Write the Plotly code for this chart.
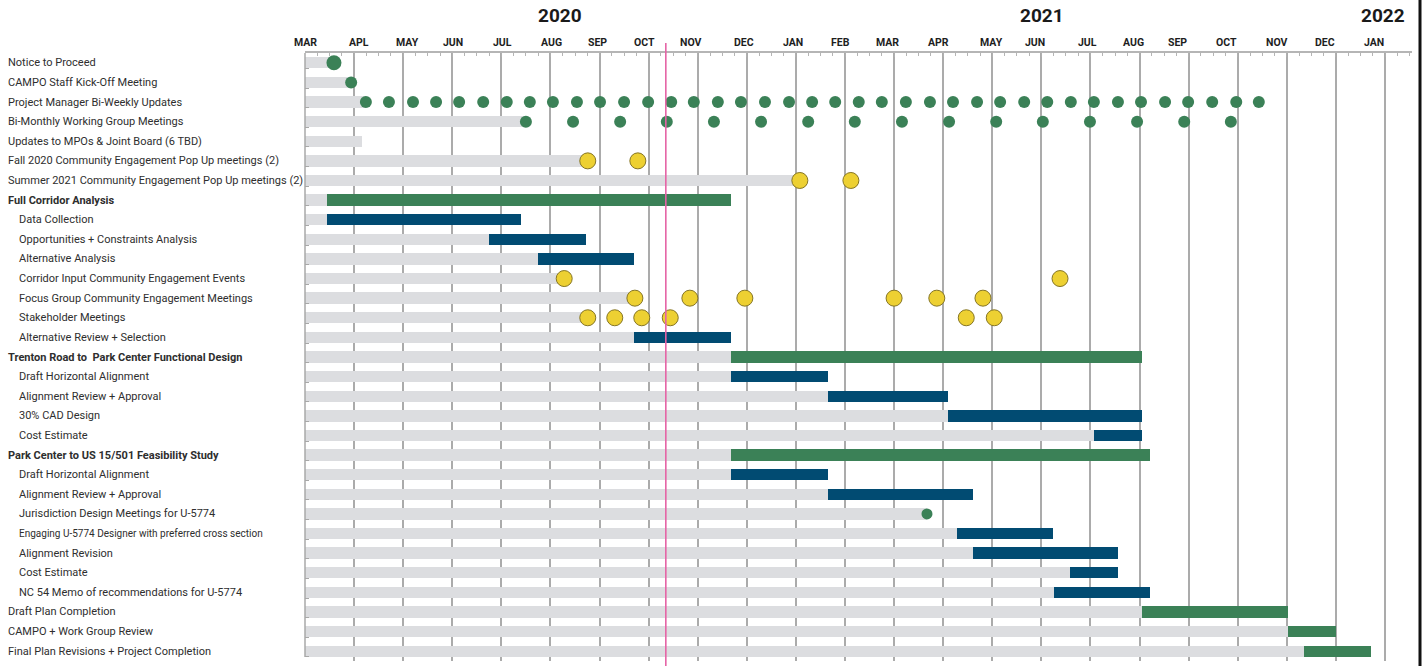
import plotly.graph_objects as go

# ---------------- data ----------------
labels = [
    "Notice to Proceed",
    "CAMPO Staff Kick-Off Meeting",
    "Project Manager Bi-Weekly Updates",
    "Bi-Monthly Working Group Meetings",
    "Updates to MPOs & Joint Board (6 TBD)",
    "Fall 2020 Community Engagement Pop Up meetings (2)",
    "Summer 2021 Community Engagement Pop Up meetings (2)",
    "Full Corridor Analysis",
    "Data Collection",
    "Opportunities + Constraints Analysis",
    "Alternative Analysis",
    "Corridor Input Community Engagement Events",
    "Focus Group Community Engagement Meetings",
    "Stakeholder Meetings",
    "Alternative Review + Selection",
    "Trenton Road to\u00a0 Park Center Functional Design",
    "Draft Horizontal Alignment",
    "Alignment Review + Approval",
    "30% CAD Design",
    "Cost Estimate",
    "Park Center to US 15/501 Feasibility Study",
    "Draft Horizontal Alignment",
    "Alignment Review + Approval",
    "Jurisdiction Design Meetings for U-5774",
    "Engaging U-5774 Designer with preferred cross section",
    "Alignment Revision",
    "Cost Estimate",
    "NC 54 Memo of recommendations for U-5774",
    "Draft Plan Completion",
    "CAMPO + Work Group Review",
    "Final Plan Revisions + Project Completion",
]
# 'top' = top level, 'head' = bold section header, 'sub' = indented sub-task
label_kind = ["top"] * 7 + ["head"] + ["sub"] * 7 + ["head"] + ["sub"] * 4 + ["head"] + ["sub"] * 7 + ["top"] * 3

# time unit: months since 1 March 2020
month_names = ["MAR", "APL", "MAY", "JUN", "JUL", "AUG", "SEP", "OCT", "NOV", "DEC", "JAN", "FEB",
               "MAR", "APR", "MAY", "JUN", "JUL", "AUG", "SEP", "OCT", "NOV", "DEC", "JAN"]
years = ["2020", "2021", "2022"]

# phases (green bars)
phase_rows = [7, 15, 20, 28, 29, 30]
phase_start = [0.45, 8.68, 8.68, 17.05, 20.02, 20.35]
phase_end = [8.68, 17.05, 17.21, 20.02, 21.00, 21.72]

# tasks (blue bars)
task_rows = [8, 9, 10, 14, 16, 17, 18, 19, 21, 22, 24, 25, 26, 27]
task_start = [0.45, 3.75, 4.75, 6.70, 8.68, 10.65, 13.10, 16.07, 8.68, 10.65, 13.28, 13.61, 15.58, 15.26]
task_end = [4.40, 5.72, 6.70, 8.68, 10.65, 13.10, 17.05, 17.05, 10.65, 13.61, 15.24, 16.56, 16.56, 17.21]

# green milestone dots
notice_to_proceed = [0.59]
kickoff_meeting = [0.94]
pm_biweekly = [1.24, 1.71, 2.20, 2.67, 3.14, 3.63, 4.11, 4.58, 5.05, 5.54, 6.01, 6.50, 6.99,
               7.46, 7.92, 8.41, 8.88, 9.37, 9.86, 10.33, 10.80, 11.28, 11.75, 12.24, 12.73,
               13.20, 13.69, 14.16, 14.65, 15.12, 15.60, 16.07, 16.56, 17.03, 17.52, 17.99,
               18.48, 18.97, 19.43]
working_group = [4.50, 5.46, 6.42, 7.37, 8.33, 9.29, 10.25, 11.20, 12.16, 13.12, 14.08,
                 15.03, 15.99, 16.95, 17.91, 18.86]
jurisdiction_meeting = [12.67]
mpo_updates_end = 1.16

# community engagement meetings (yellow circles)
fall_popups = [5.76, 6.78]
summer_popups = [10.08, 11.12]
corridor_events = [5.28, 15.38]
focus_groups = [6.72, 7.84, 8.96, 12.00, 12.87, 13.81]
stakeholder_meetings = [5.76, 6.31, 6.86, 7.44, 13.47, 14.04]

today_line = 7.35

# ---------------- styling ----------------
GREEN = "#3b8157"
BLUE = "#014b72"
YELLOW = "#edd032"
YELLOW_EDGE = "#857525"
GRAY_BAR = "#dcdde0"
GRID = "#ababab"
PINK = "#e563a6"
TEXT = "#2e2e2e"
FONT = "Roboto, 'Liberation Sans', sans-serif"

W, H = 1425, 666
ML, MR, MT, MB = 305, 13, 53, 5
PW = W - ML - MR
PH = H - MT - MB
BAR_W = 0.58
X_MAX = 22.55
n = len(labels)

green_dots = [(0, notice_to_proceed, 15), (1, kickoff_meeting, 12), (2, pm_biweekly, 12),
              (3, working_group, 12), (23, jurisdiction_meeting, 11)]
yellow_dots = [(5, fall_popups), (6, summer_popups), (11, corridor_events),
               (12, focus_groups), (13, stakeholder_meetings)]

# gray base bar runs up to the first item of each row
first_item = {4: mpo_updates_end}
for r, s in zip(phase_rows + task_rows, phase_start + task_start):
    first_item[r] = min(first_item.get(r, 99), s)
for r, xs, _ in green_dots:
    first_item[r] = min(first_item.get(r, 99), min(xs))
for r, xs in yellow_dots:
    first_item[r] = min(first_item.get(r, 99), min(xs))
gray_rows = sorted(first_item)
gray_end = [first_item[r] for r in gray_rows]

fig = go.Figure()
fig.add_trace(go.Bar(orientation="h", y=gray_rows, x=gray_end, base=[0] * len(gray_rows),
                     width=BAR_W, marker=dict(color=GRAY_BAR, line_width=0),
                     hoverinfo="skip", showlegend=False))
fig.add_trace(go.Bar(orientation="h", y=phase_rows,
                     x=[e - s for s, e in zip(phase_start, phase_end)], base=phase_start,
                     width=BAR_W, marker=dict(color=GREEN, line_width=0),
                     hoverinfo="skip", showlegend=False))
fig.add_trace(go.Bar(orientation="h", y=task_rows,
                     x=[e - s for s, e in zip(task_start, task_end)], base=task_start,
                     width=BAR_W, marker=dict(color=BLUE, line_width=0),
                     hoverinfo="skip", showlegend=False))

gx, gy, gs = [], [], []
for r, xs, size in green_dots:
    gx += xs
    gy += [r] * len(xs)
    gs += [size] * len(xs)
fig.add_trace(go.Scatter(x=gx, y=gy, mode="markers",
                         marker=dict(color=GREEN, size=gs, opacity=1, line_width=0),
                         hoverinfo="skip", showlegend=False))
yx, yy = [], []
for r, xs in yellow_dots:
    yx += xs
    yy += [r] * len(xs)
fig.add_trace(go.Scatter(x=yx, y=yy, mode="markers",
                         marker=dict(color=YELLOW, size=16, opacity=1,
                                     line=dict(color=YELLOW_EDGE, width=1)),
                         hoverinfo="skip", showlegend=False))

annotations = []
for i, (lab, kind) in enumerate(zip(labels, label_kind)):
    px = 17 if kind == "sub" else 6
    size = 10 if lab.startswith("Engaging") else 11
    txt = "<b>%s</b>" % lab if kind == "head" else lab
    annotations.append(dict(x=(px - ML) / PW, xref="paper", y=i, yref="y", text=txt,
                            xanchor="left", yanchor="middle", showarrow=False,
                            font=dict(size=size, color=TEXT, family=FONT)))

# month labels (centres as printed on the chart)
month_label_x = [0.02, 1.10, 2.08, 3.01, 4.03, 5.03, 5.95, 6.91, 7.86, 8.94, 9.94, 10.90,
                 11.86, 12.91, 13.99, 14.87, 15.93, 16.87, 17.78, 18.78, 19.80, 20.78, 21.78]
for mx, name in zip(month_label_x, month_names):
    annotations.append(dict(x=mx, xref="x", y=1 + 10 / PH, yref="paper", text="<b>%s</b>" % name,
                            xanchor="center", yanchor="middle", showarrow=False,
                            font=dict(size=10.5, color="#1e1e1e", family=FONT)))
year_x = [5.19, 15.01, 21.96]
for yxv, yr in zip(year_x, years):
    annotations.append(dict(x=yxv, xref="x", y=1 + 38 / PH, yref="paper", text="<b>%s</b>" % yr,
                            xanchor="center", yanchor="middle", showarrow=False,
                            font=dict(size=19, color="#1a1a1a", family=FONT)))

shapes = [
    dict(type="line", xref="x", yref="paper", x0=today_line, x1=today_line,
         y0=-MB / PH, y1=1 + 10 / PH, line=dict(color=PINK, width=1.6), layer="above"),
    dict(type="line", xref="paper", yref="paper", x0=1 + 8 / PW, x1=1 + 8 / PW,
         y0=-MB / PH, y1=1 + MT / PH, line=dict(color="#111111", width=3)),
    # left axis line ending at the bottom of the last bar
    dict(type="line", xref="paper", yref="y", x0=0, x1=0, y0=-0.5, y1=n - 1 + 0.29,
         line=dict(color="#a8a8a8", width=1.5)),
]

fig.update_layout(
    width=W, height=H, autosize=False,
    margin=dict(l=ML, r=MR, t=MT, b=MB, pad=0, autoexpand=False),
    paper_bgcolor="white", plot_bgcolor="white",
    barmode="overlay", bargap=0,
    annotations=annotations, shapes=shapes,
    font=dict(family=FONT),
    xaxis=dict(range=[0, X_MAX], side="top", tickmode="linear", tick0=0, dtick=1,
               showticklabels=False, ticks="inside", ticklen=4, tickcolor="#b0b0b0", tickwidth=1,
               showgrid=True, gridcolor=GRID, gridwidth=1.5, zeroline=False,
               showline=True, linecolor="#b5b5b5", linewidth=1.5,
               minor=dict(tick0=0, dtick=0.25, ticks="inside", ticklen=3,
                          tickcolor="#b5b5b5", showgrid=False),
               fixedrange=True),
    yaxis=dict(range=[n - 0.5, -0.5], tickmode="array",
               tickvals=[i + 0.29 for i in range(n)], showticklabels=False,
               ticks="inside", ticklen=4, tickcolor="#a8a8a8", tickwidth=1,
               showgrid=False, zeroline=False, showline=False, fixedrange=True),
)

# remove the default page margin so the figure fills the window exactly
fig.write_html("out.html", config={"displayModeBar": False},
               post_script="document.body.style.margin='0px';")
